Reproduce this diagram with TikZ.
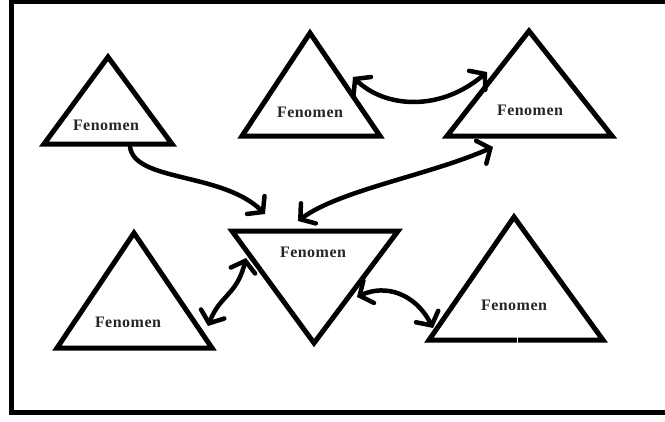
\documentclass[tikz,border=0pt]{standalone}
\usepackage{fontspec}
\setmainfont{Liberation Serif}
\usetikzlibrary{arrows.meta}
\begin{document}
\begin{tikzpicture}[x=1pt,y=-1pt,
  tri/.style={line width=5pt,line join=miter},
  frame/.style={line width=4.5pt},
  lbl/.style={font=\fontsize{16}{18}\selectfont\bfseries\addfontfeature{LetterSpace=3}\relax,anchor=base,inner sep=0pt,text=black!85},
  barb/.style={Straight Barb[length=10pt,width=25pt,line cap=round]},
  arr/.style={line width=4.5pt,line cap=round,-{Straight Barb[length=10pt,width=25pt,line cap=round]}},
  darr/.style={line width=4.5pt,line cap=round,{Straight Barb[length=10pt,width=25pt,line cap=round]}-{Straight Barb[length=10pt,width=25pt,line cap=round]}}]
\useasboundingbox (0,0) rectangle (665,421);
\fill[white] (0,0) rectangle (665,421);
% frame
\draw[frame] (665,2) -- (11.5,2) -- (11.5,412.5) -- (665,412.5);
% triangles
\draw[tri] (108,57) -- (44,144) -- (172,144) -- cycle;
\draw[tri] (310,33) -- (242,136) -- (380,136) -- cycle;
\draw[tri] (529,31) -- (447,136) -- (612,136) -- cycle;
\draw[tri] (134,233) -- (57,348) -- (212,348) -- cycle;
\draw[tri] (232,231) -- (398,231) -- (314,343) -- cycle;
\draw[tri] (514,217) -- (429,340) -- (603,340) -- cycle;
\draw[white,line width=1.5pt] (517.5,336) -- (517.5,344);
% labels
\node[lbl] (f1) at (106,130) {Fenomen};
\node[lbl] (f2) at (310,117) {Fenomen};
\node[lbl] (f3) at (530,115) {Fenomen};
\node[lbl] (f4) at (128,327) {Fenomen};
\node[lbl] (f5) at (313,257) {Fenomen};
\node[lbl] (f6) at (514,310) {Fenomen};
% connector end points
\coordinate (a1s) at (130,147);
\coordinate (a1e) at (265,214);
\coordinate (a2s) at (298,221);
\coordinate (a2e) at (493,147);
\coordinate (a3s) at (353,77);
\coordinate (a3e) at (487,72);
\coordinate (a4s) at (208,326);
\coordinate (a4e) at (246,258);
\coordinate (a5s) at (357,297);
\coordinate (a5e) at (433,328);
% connectors
\draw[arr] (a1s) .. controls (135,182) and (222,172) .. (a1e);
\draw[darr] (a2s) .. controls (340,190) and (430,175) .. (a2e);
\draw[darr] (a3s) .. controls (385,108) and (440,112) .. (a3e);
\draw[darr] (a4s) .. controls (220,295) and (237,295) .. (a4e);
\draw[darr] (a5s) .. controls (385,284) and (415,293) .. (a5e);
\end{tikzpicture}
\end{document}
